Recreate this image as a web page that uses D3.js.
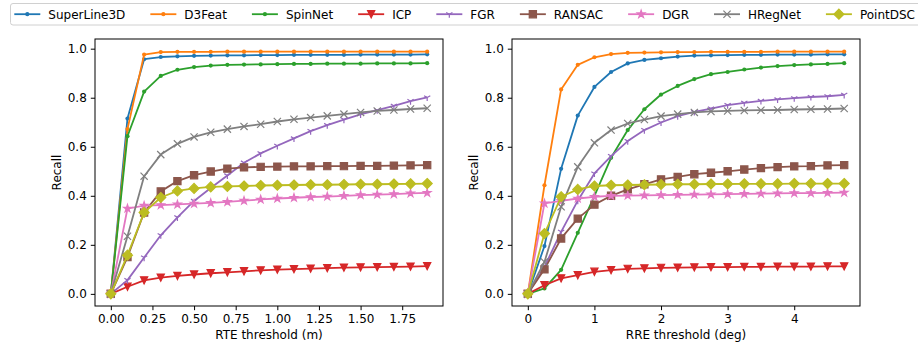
<!DOCTYPE html>
<html>
<head>
<meta charset="utf-8">
<script src="https://cdn.jsdelivr.net/npm/d3@7"></script>
<style>
  body { margin: 0; background: #fff; }
  text { font-family: "DejaVu Sans", sans-serif; }
</style>
</head>
<body>
<svg></svg>
<script>
// thresholds
let rteThresholds = [0, 0.1, 0.2, 0.3, 0.4, 0.5, 0.6, 0.7, 0.8, 0.9, 1.0, 1.1, 1.2, 1.3, 1.4, 1.5, 1.6, 1.7, 1.8, 1.9]
let rreThresholds = [0, 0.25, 0.5, 0.75, 1.0, 1.25, 1.5, 1.75, 2.0, 2.25, 2.5, 2.75, 3.0, 3.25, 3.5, 3.75, 4.0, 4.25, 4.5, 4.75]

let methods = ["SuperLine3D", "D3Feat", "SpinNet", "ICP", "FGR", "RANSAC", "DGR", "HRegNet", "PointDSC"]

// recall vs RTE threshold (m)
let rteSuperLine3D = [0, 0.715, 0.957, 0.966, 0.969, 0.971, 0.972, 0.973, 0.973, 0.974, 0.974, 0.975, 0.975, 0.975, 0.975, 0.976, 0.976, 0.976, 0.976, 0.977]
let rteD3Feat = [0, 0.672, 0.976, 0.986, 0.987, 0.987, 0.987, 0.988, 0.988, 0.988, 0.988, 0.988, 0.988, 0.988, 0.988, 0.988, 0.988, 0.988, 0.988, 0.988]
let rteSpinNet = [0, 0.643, 0.825, 0.889, 0.914, 0.925, 0.931, 0.934, 0.935, 0.936, 0.937, 0.938, 0.938, 0.939, 0.939, 0.939, 0.940, 0.940, 0.940, 0.941]
let rteICP = [0, 0.029, 0.055, 0.066, 0.073, 0.079, 0.084, 0.088, 0.092, 0.096, 0.099, 0.101, 0.103, 0.105, 0.107, 0.108, 0.109, 0.110, 0.111, 0.113]
let rteFGR = [0, 0.056, 0.148, 0.239, 0.312, 0.379, 0.432, 0.483, 0.535, 0.573, 0.604, 0.634, 0.664, 0.688, 0.711, 0.732, 0.749, 0.767, 0.786, 0.801]
let rteRANSAC = [0, 0.150, 0.332, 0.418, 0.460, 0.484, 0.499, 0.511, 0.516, 0.518, 0.519, 0.520, 0.520, 0.521, 0.521, 0.522, 0.522, 0.523, 0.524, 0.525]
let rteDGR = [0, 0.348, 0.360, 0.362, 0.365, 0.368, 0.371, 0.375, 0.380, 0.385, 0.389, 0.392, 0.395, 0.397, 0.400, 0.403, 0.405, 0.407, 0.410, 0.412]
let rteHRegNet = [0, 0.235, 0.480, 0.568, 0.612, 0.640, 0.659, 0.672, 0.683, 0.692, 0.703, 0.712, 0.719, 0.726, 0.733, 0.740, 0.746, 0.750, 0.754, 0.757]
let rtePointDSC = [0, 0.158, 0.332, 0.393, 0.420, 0.430, 0.436, 0.438, 0.440, 0.442, 0.443, 0.444, 0.445, 0.445, 0.446, 0.447, 0.447, 0.448, 0.449, 0.450]

// recall vs RRE threshold (deg)
let rreSuperLine3D = [0, 0.195, 0.510, 0.727, 0.844, 0.905, 0.940, 0.954, 0.961, 0.968, 0.972, 0.973, 0.974, 0.975, 0.975, 0.976, 0.976, 0.976, 0.977, 0.977]
let rreD3Feat = [0, 0.443, 0.834, 0.934, 0.965, 0.978, 0.983, 0.984, 0.985, 0.986, 0.986, 0.987, 0.987, 0.987, 0.987, 0.988, 0.988, 0.988, 0.988, 0.988]
let rreSpinNet = [0, 0.022, 0.098, 0.249, 0.400, 0.555, 0.668, 0.753, 0.813, 0.848, 0.876, 0.896, 0.905, 0.915, 0.923, 0.929, 0.933, 0.936, 0.938, 0.941]
let rreICP = [0, 0.035, 0.063, 0.076, 0.090, 0.097, 0.102, 0.104, 0.106, 0.107, 0.108, 0.109, 0.109, 0.110, 0.110, 0.111, 0.111, 0.111, 0.112, 0.112]
let rreFGR = [0, 0.110, 0.253, 0.380, 0.491, 0.562, 0.623, 0.668, 0.699, 0.725, 0.742, 0.756, 0.770, 0.779, 0.787, 0.793, 0.798, 0.803, 0.806, 0.812]
let rreRANSAC = [0, 0.100, 0.226, 0.307, 0.364, 0.400, 0.426, 0.447, 0.467, 0.477, 0.488, 0.494, 0.500, 0.507, 0.513, 0.517, 0.520, 0.521, 0.524, 0.525]
let rreDGR = [0, 0.369, 0.379, 0.389, 0.396, 0.400, 0.401, 0.402, 0.403, 0.404, 0.405, 0.406, 0.407, 0.408, 0.409, 0.410, 0.411, 0.411, 0.412, 0.413]
let rreHRegNet = [0, 0.130, 0.355, 0.518, 0.616, 0.668, 0.695, 0.711, 0.725, 0.733, 0.740, 0.744, 0.746, 0.748, 0.749, 0.750, 0.752, 0.753, 0.754, 0.756]
let rrePointDSC = [0, 0.246, 0.396, 0.426, 0.440, 0.443, 0.444, 0.445, 0.446, 0.447, 0.447, 0.448, 0.448, 0.449, 0.449, 0.449, 0.450, 0.450, 0.450, 0.450]

let rteSeries = [rteSuperLine3D, rteD3Feat, rteSpinNet, rteICP, rteFGR, rteRANSAC, rteDGR, rteHRegNet, rtePointDSC]
let rreSeries = [rreSuperLine3D, rreD3Feat, rreSpinNet, rreICP, rreFGR, rreRANSAC, rreDGR, rreHRegNet, rrePointDSC]

let colors = ["#1f77b4", "#ff7f0e", "#2ca02c", "#d62728", "#9467bd", "#8c564b", "#e377c2", "#7f7f7f", "#bcbd22"]
let markers = ["dot", "dot", "dot", "triDown", "tri", "square", "star", "x", "diamond"]

let recallTicks = [0, 0.2, 0.4, 0.6, 0.8, 1.0]
let rteTicks = [0, 0.25, 0.5, 0.75, 1.0, 1.25, 1.5, 1.75]
let rreTicks = [0, 1, 2, 3, 4]

let width = 918
let height = 348
let plotTop = 39
let plotBottom = 306

let svg = d3.select("svg")
    .attr("width", width)
    .attr("height", height)

// marker shapes drawn around 0,0
let markerPath = (type) => {
    let s = 3.6
    if (type == "triDown") return `M0,${s}L${-s},${-s}L${s},${-s}Z`
    if (type == "square") return `M${-s},${-s}H${s}V${s}H${-s}Z`
    if (type == "diamond") return `M0,-5L5,0L0,5L-5,0Z`
    if (type == "x") return `M${-s},${-s}L${s},${s}M${-s},${s}L${s},${-s}`
    if (type == "tri") return `M0,0V${s}M0,0L${-0.866 * s},${-0.5 * s}M0,0L${0.866 * s},${-0.5 * s}`
    if (type == "star") {
        let pts = []
        for (let i = 0; i < 10; i++) {
            let r = i % 2 == 0 ? 4 : 4 * 0.382
            let a = -Math.PI / 2 + i * Math.PI / 5
            pts.push([r * Math.cos(a), r * Math.sin(a)])
        }
        return "M" + pts.map(p => p.join(",")).join("L") + "Z"
    }
    return null
}

let drawMarker = (g, type, color, x, y) => {
    if (type == "dot") {
        g.append("circle").attr("cx", x).attr("cy", y).attr("r", 2.1).attr("fill", color)
        return
    }
    let open = (type == "x" || type == "tri")
    g.append("path")
        .attr("d", markerPath(type))
        .attr("transform", `translate(${x},${y})`)
        .attr("fill", open ? "none" : color)
        .attr("stroke", color)
        .attr("stroke-width", 1.2)
        .attr("stroke-linejoin", "miter")
}

let drawPanel = (left, right, thresholds, series, xDomain, xTicks, xFormat, xLabel) => {
    let xScale = d3.scaleLinear().domain(xDomain).range([left, right])
    let yScale = d3.scaleLinear().domain([-0.0495, 1.0395]).range([plotBottom, plotTop])

    let g = svg.append("g")

    series.forEach((vals, i) => {
        let pts = vals.map((v, j) => [xScale(thresholds[j]), yScale(v)])
        let line = d3.line()
        let sg = g.append("g")
        sg.append("path")
            .attr("d", line(pts))
            .attr("fill", "none")
            .attr("stroke", colors[i])
            .attr("stroke-width", 1.8)
            .attr("stroke-linejoin", "round")
        pts.forEach(p => drawMarker(sg, markers[i], colors[i], p[0], p[1]))
    })

    // frame
    g.append("rect")
        .attr("x", left).attr("y", plotTop)
        .attr("width", right - left).attr("height", plotBottom - plotTop)
        .attr("fill", "none").attr("stroke", "#000").attr("stroke-width", 1)

    let xAxis = d3.axisBottom(xScale).tickValues(xTicks).tickFormat(xFormat).tickSize(4.2).tickPadding(4).tickSizeOuter(0)
    let xg = svg.append("g")
        .attr("transform", `translate(0, ${plotBottom})`)
        .call(xAxis)
    let yAxis = d3.axisLeft(yScale).tickValues(recallTicks).tickFormat(d3.format(".1f")).tickSize(4.2).tickPadding(4).tickSizeOuter(0)
    let yg = svg.append("g")
        .attr("transform", `translate(${left}, 0)`)
        .call(yAxis)
    ;[xg, yg].forEach(a => {
        a.select(".domain").remove()
        a.selectAll("text").style("font-size", "12px").style("font-family", "DejaVu Sans").attr("fill", "#000")
        a.selectAll("line").attr("stroke", "#000").attr("stroke-width", 1)
    })

    svg.append("text")
        .attr("x", (left + right) / 2)
        .attr("y", 339)
        .attr("text-anchor", "middle")
        .style("font-size", "12px")
        .text(xLabel)

    svg.append("text")
        .attr("transform", `translate(${left - 34.5}, 172.5) rotate(-90)`)
        .attr("text-anchor", "middle")
        .style("font-size", "12px")
        .text("Recall")
}

drawPanel(95, 443, rteThresholds, rteSeries, [-0.095, 1.995], rteTicks, d3.format(".2f"), "RTE threshold (m)")
drawPanel(512, 860, rreThresholds, rreSeries, [-0.2375, 4.9875], rreTicks, d3.format("d"), "RRE threshold (deg)")

// legend
let legend = svg.append("g")
legend.append("rect")
    .attr("x", 10.5).attr("y", 3.5)
    .attr("width", 912).attr("height", 21.5)
    .attr("rx", 2.5)
    .attr("fill", "#fff")
    .attr("stroke", "#d0d0d0")
    .attr("stroke-width", 1)

let lx = 14.3
let ly = 14.2
methods.forEach((name, i) => {
    let item = legend.append("g")
    item.append("line")
        .attr("x1", lx).attr("x2", lx + 26)
        .attr("y1", ly).attr("y2", ly)
        .attr("stroke", colors[i]).attr("stroke-width", 1.8)
    drawMarker(item, markers[i], colors[i], lx + 13, ly)
    let t = item.append("text")
        .attr("x", lx + 34)
        .attr("y", ly + 4.3)
        .style("font-size", "12px")
        .text(name)
    lx = lx + 34 + t.node().getComputedTextLength() + 25
})
</script>
</body>
</html>
